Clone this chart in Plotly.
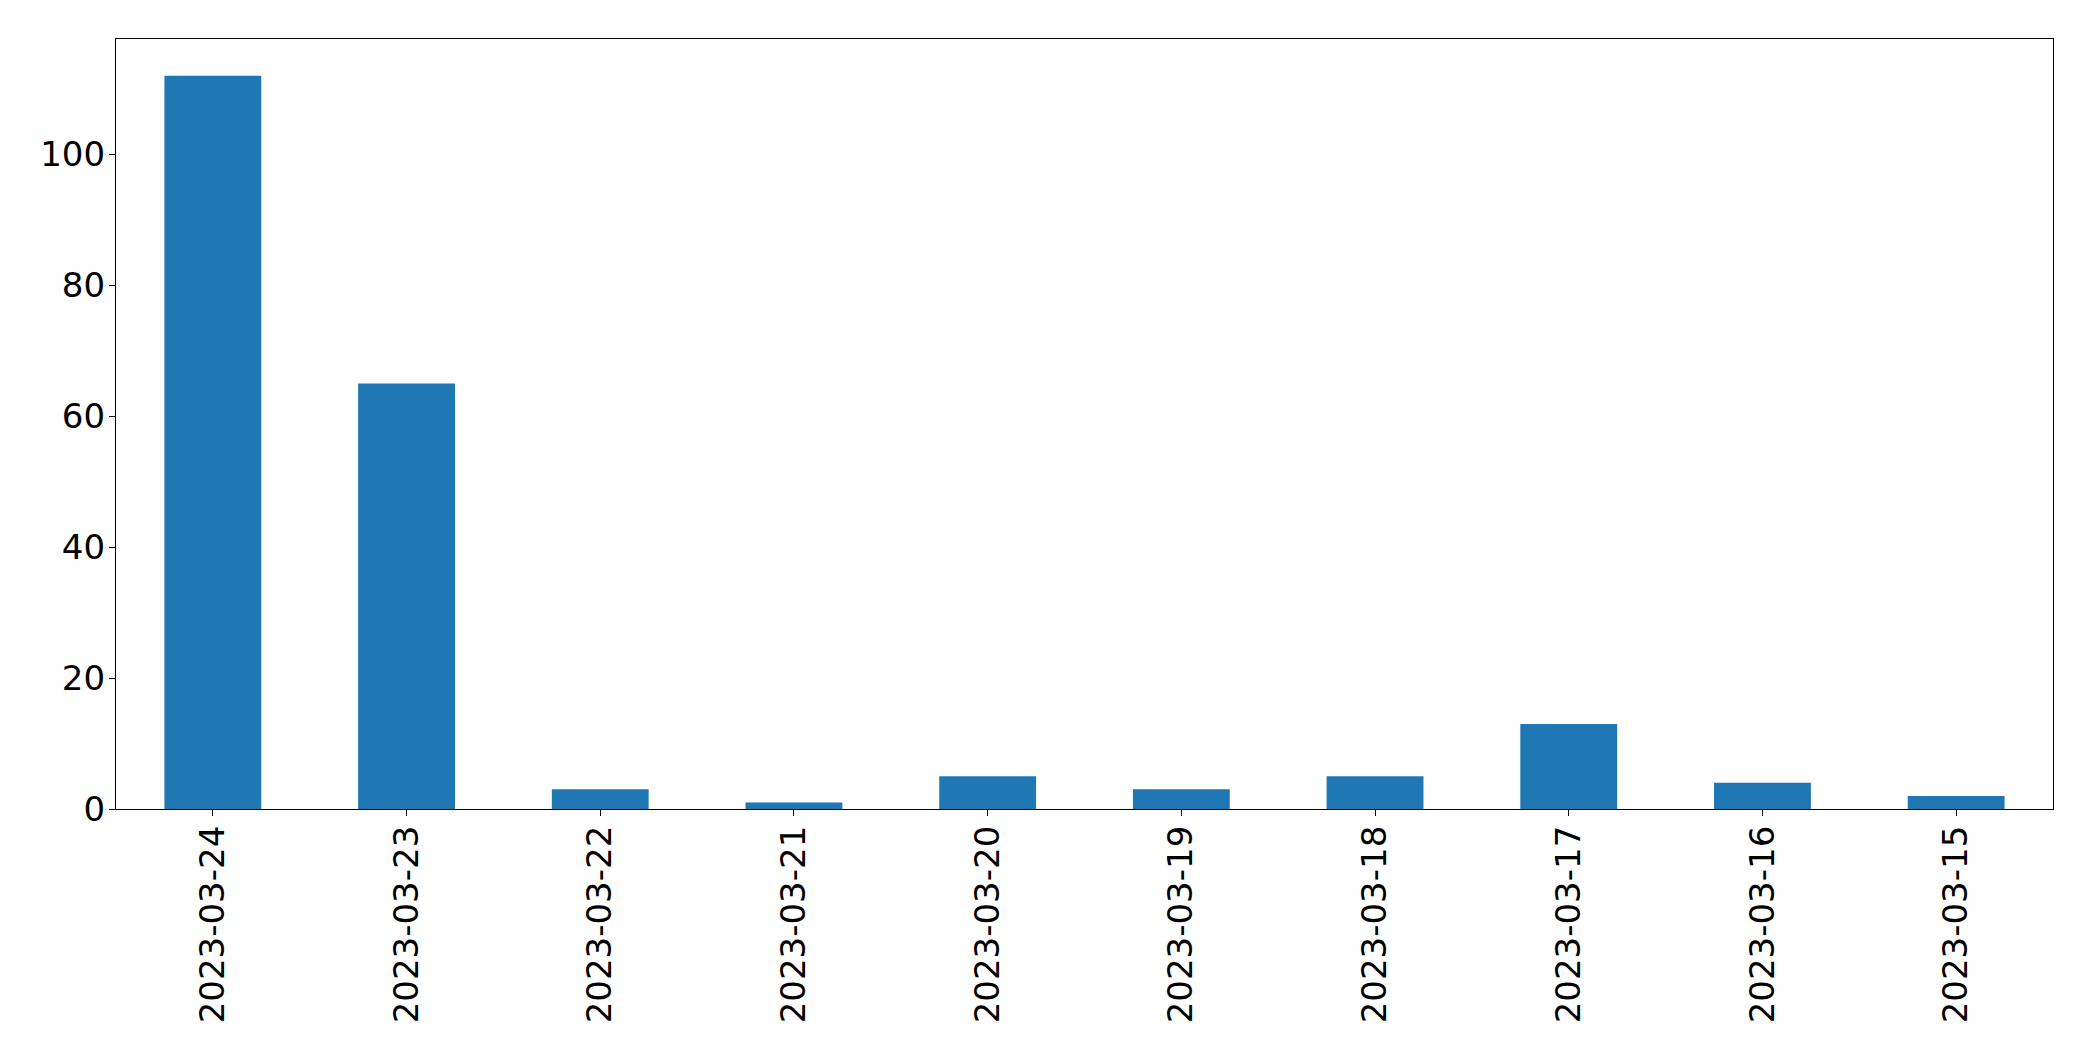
import plotly.graph_objects as go

dates = ["2023-03-24", "2023-03-23", "2023-03-22", "2023-03-21", "2023-03-20",
         "2023-03-19", "2023-03-18", "2023-03-17", "2023-03-16", "2023-03-15"]
counts = [112, 65, 3, 1, 5, 3, 5, 13, 4, 2]
y_ticks = [0, 20, 40, 60, 80, 100]

fig = go.Figure(go.Bar(x=dates, y=counts, marker_color="#1f77b4", marker_line_width=0))

fig.update_layout(
    width=2093, height=1061,
    margin=dict(l=108, r=48, t=31, b=260),
    paper_bgcolor="white", plot_bgcolor="white",
    bargap=0.5,
    showlegend=False,
    font=dict(family="DejaVu Sans", size=34, color="black"),
)
fig.update_xaxes(
    type="category", tickangle=-90, range=[-0.5, 9.5],
    showline=True, linecolor="black", linewidth=1.3, mirror=True,
    ticks="outside", ticklen=6, tickwidth=1.3, tickcolor="black",
    ticklabelstandoff=-4,
    showgrid=False, zeroline=False,
)
fig.update_yaxes(
    range=[0, 117.6], tickvals=y_ticks,
    showline=True, linecolor="black", linewidth=1.3, mirror=True,
    ticks="outside", ticklen=6, tickwidth=1.3, tickcolor="black",
    ticklabelstandoff=-3,
    showgrid=False, zeroline=False,
)
fig.write_html("out.html")
